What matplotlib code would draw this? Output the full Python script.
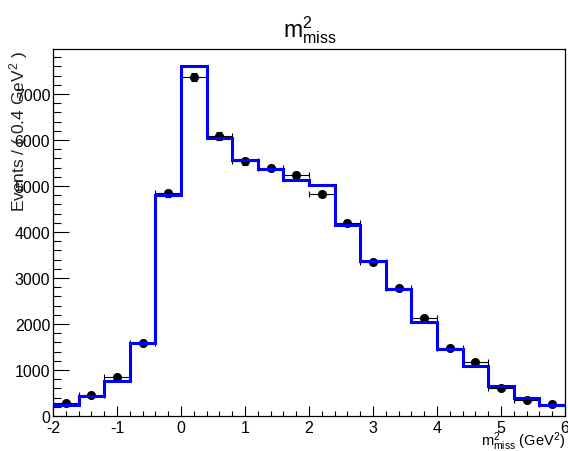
import numpy as np
import matplotlib
matplotlib.use("Agg")
import matplotlib.pyplot as plt
from matplotlib.ticker import MultipleLocator

plt.rcParams["font.family"] = ["Liberation Sans", "DejaVu Sans"]
plt.rcParams["mathtext.fontset"] = "custom"
plt.rcParams["mathtext.rm"] = "Liberation Sans"
plt.rcParams["mathtext.it"] = "Liberation Sans"
plt.rcParams["axes.unicode_minus"] = False

# Binning: 20 bins of 0.4 GeV^2 from -2 to 6
bin_edges = np.linspace(-2.0, 6.0, 21)

# Fit / model histogram (blue)
model_counts = [239, 442, 754, 1580, 4811, 7615, 6037, 5565, 5376, 5130,
                5014, 4145, 3377, 2768, 2051, 1457, 1094, 645, 384, 239]

# Data points (black)
data_counts = [276, 457, 848, 1580, 4841, 7376, 6087, 5543, 5391, 5239,
               4833, 4203, 3341, 2775, 2130, 1471, 1174, 609, 355, 254]

W, H = 568, 452
fig = plt.figure(figsize=(W / 100, H / 100), dpi=100)
ax = fig.add_axes([53 / W, (H - 417) / H, 512 / W, 367 / H])

centers = 0.5 * (bin_edges[:-1] + bin_edges[1:])
half = 0.5 * np.diff(bin_edges)
data = np.array(data_counts, dtype=float)

ax.errorbar(centers, data, xerr=half, yerr=np.sqrt(data), fmt="o",
            color="black", ms=5.5, elinewidth=0.8, capsize=2, capthick=0.8,
            zorder=2)
ax.stairs(model_counts, bin_edges, baseline=None, color="#0000ff",
          linewidth=2.2, zorder=3)

ax.set_xlim(-2, 6)
ax.set_ylim(0, 7980)

ax.xaxis.set_major_locator(MultipleLocator(1))
ax.xaxis.set_minor_locator(MultipleLocator(0.2))
ax.yaxis.set_major_locator(MultipleLocator(1000))
ax.yaxis.set_minor_locator(MultipleLocator(200))
ax.tick_params(axis="both", which="both", direction="in", labelsize=11.5,
               top=False, right=False, width=0.8)
ax.tick_params(axis="x", which="major", length=7, pad=3)
ax.tick_params(axis="x", which="minor", length=3.6)
ax.tick_params(axis="y", which="major", length=11.5, pad=2)
ax.tick_params(axis="y", which="minor", length=6)
for s in ax.spines.values():
    s.set_linewidth(0.9)

fig.text(310 / W, 1 - 30 / H, r"$\mathregular{m^{2}_{miss}}$", ha="center",
         va="center", fontsize=16.5)
fig.text(565 / W, 1 - 442 / H, r"$\mathregular{m^{2}_{miss}}$ (GeV$\mathregular{^{2}}$)",
         ha="right", va="center", fontsize=10.5)
fig.text(19 / W, 1 - 132 / H, r"Events / ( 0.4 GeV$\mathregular{^{2}}$ )",
         ha="center", va="center", rotation=90, fontsize=12.5, color="#222222")

fig.savefig("out.png", dpi=100)
